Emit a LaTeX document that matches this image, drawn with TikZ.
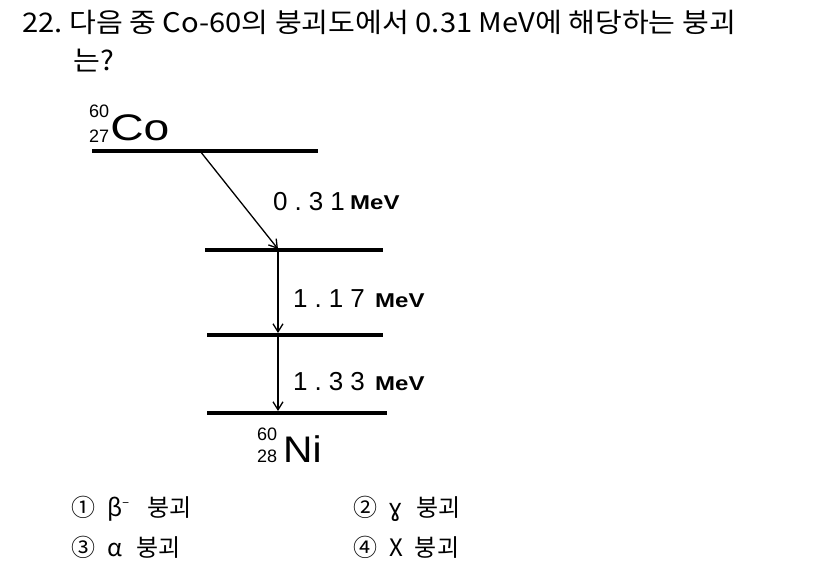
\documentclass[tikz,border=0pt]{standalone}
\usepackage{fontspec}
\usetikzlibrary{arrows.meta}
\setmainfont{Liberation Sans}
\newfontfamily\kor{Noto Sans CJK KR}
\newfontfamily\dejavu{DejaVu Sans}
\newfontfamily\spaced{Liberation Sans}[LetterSpace=27]
\tikzstyle{Level}=[black,line width=3.5pt]
\tikzstyle{Decay}=[black,line width=1.3pt,-{Straight Barb[length=8pt,width=10pt]}]
\tikzstyle{Energy}=[anchor=base west,inner sep=0pt,font=\spaced\fontsize{26}{30}\selectfont]
\tikzstyle{Unit}=[anchor=base west,inner sep=0pt,xscale=1.2,font=\bfseries\fontsize{20}{22}\selectfont]
\tikzstyle{Mass}=[anchor=base west,inner sep=0pt,font=\fontsize{18}{20}\selectfont]
\tikzstyle{Element}=[anchor=base west,inner sep=0pt,font=\fontsize{37}{40}\selectfont]
\tikzstyle{Question}=[anchor=base west,inner sep=0pt,xscale=1.08,font=\kor\fontsize{27}{32}\selectfont]
\tikzstyle{Choice}=[anchor=base west,inner sep=0pt,font=\kor\fontsize{24}{28}\selectfont]

\begin{document}
\begin{tikzpicture}[x=1pt,y=-1pt]
        \useasboundingbox[fill=white](0,0)rectangle(826,561);
        % question
        \node[Question](q1)at(22,33){22.\ 다음\ 중\ Co-60의\ 붕괴도에서\ 0.31\ MeV에\ 해당하는\ 붕괴};
        \node[Question](q2)at(73,71){는?};
        % levels
        \coordinate(coL)at(92,151);\coordinate(coR)at(318,151);
        \coordinate(e1L)at(205,250);\coordinate(e1R)at(383,250);
        \coordinate(e2L)at(207,335);\coordinate(e2R)at(383,335);
        \coordinate(niL)at(207,413);\coordinate(niR)at(387,413);
        \draw[Level](coL)--(coR);
        \draw[Level](e1L)--(e1R);
        \draw[Level](e2L)--(e2R);
        \draw[Level](niL)--(niR);
        % nuclides
        \node[Mass](coA)at(89,118){60};
        \node[Mass](coZ)at(89,143){27};
        \node[Element,xscale=1.25](co)at(110,141){Co};
        \node[Mass](niA)at(257,440){60};
        \node[Mass](niZ)at(257,462){28};
        \node[Element,xscale=1.1](ni)at(283,462){Ni};
        % transitions
        \coordinate(b0)at(200,151);\coordinate(b1)at(278,249);
        \coordinate(g1a)at(278,250);\coordinate(g1b)at(278,333);
        \coordinate(g2a)at(278,336);\coordinate(g2b)at(278,411);
        \draw[Decay](b0)--(b1);
        \draw[Decay](g1a)--(g1b);
        \draw[Decay](g2a)--(g2b);
        \node[Energy](eb)at(273,211){0.31};
        \node[Unit](ebu)at(350,210){MeV};
        \node[Energy](eg1)at(293,307){1.17};
        \node[Unit](eg1u)at(375,307){MeV};
        \node[Energy](eg2)at(293,390){1.33};
        \node[Unit](eg2u)at(375,390){MeV};
        % choices
        \node[Choice](c1)at(71,516){①\hspace{12pt}β\raisebox{9pt}{\fontsize{12}{12}\selectfont −}\hspace{18pt}붕괴};
        \node[Choice](c2)at(353,516){②\hspace{11pt}{\dejavu ɣ}\hspace{14pt}붕괴};
        \node[Choice](c3)at(71,556){③\hspace{12pt}α\hspace{14pt}붕괴};
        \node[Choice](c4)at(353,556){④\hspace{12pt}X\hspace{12pt}붕괴};
    \end{tikzpicture}
\end{document}
